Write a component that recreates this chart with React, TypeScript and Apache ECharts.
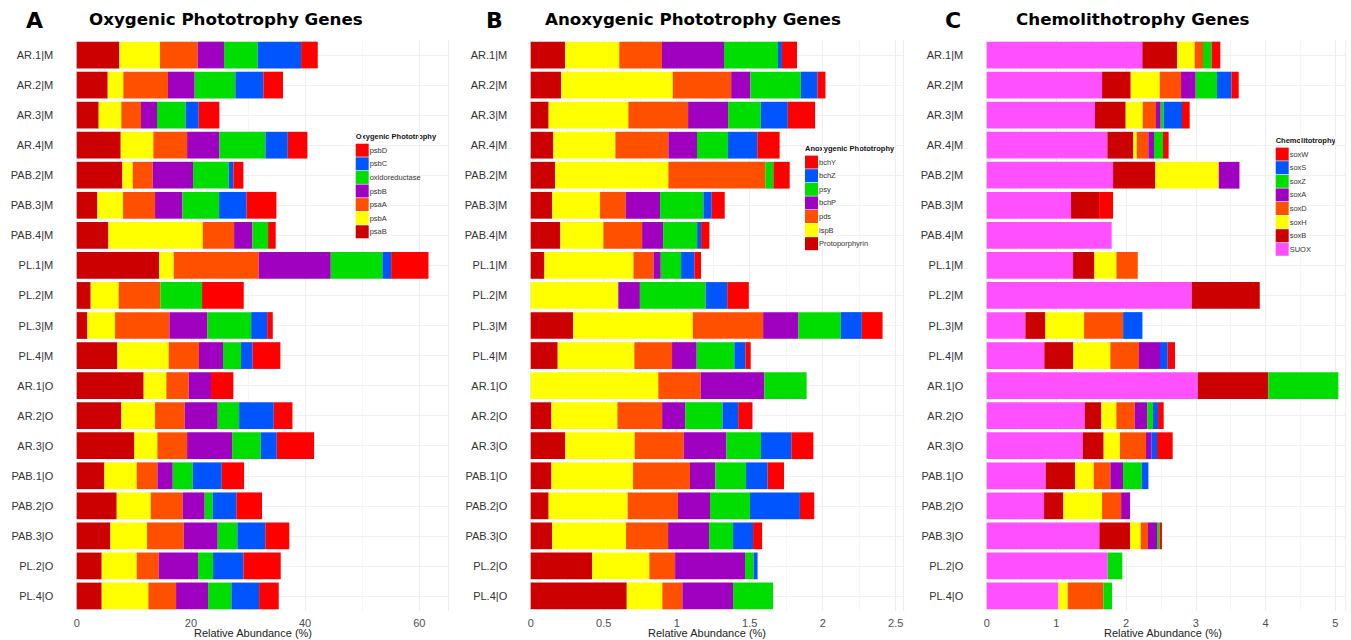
import React, { useEffect, useRef } from "react";
import * as echarts from "echarts";

const categories = [
  "AR.1|M", "AR.2|M", "AR.3|M", "AR.4|M", "PAB.2|M", "PAB.3|M", "PAB.4|M", "PL.1|M", "PL.2|M", "PL.3|M",
  "PL.4|M", "AR.1|O", "AR.2|O", "AR.3|O", "PAB.1|O", "PAB.2|O", "PAB.3|O", "PL.2|O", "PL.4|O",
];

// Panel A – Oxygenic phototrophy (stack order left -> right)
const psaB = [7.47, 5.43, 3.85, 7.71, 8.0, 3.62, 5.55, 14.42, 2.45, 1.87, 7.12, 11.73, 7.82, 10.1, 4.85, 7.01, 5.9, 4.38, 4.38];
const psbA = [7.12, 2.74, 3.97, 5.72, 1.81, 4.5, 16.52, 2.57, 4.9, 4.85, 8.99, 3.97, 5.9, 4.03, 5.66, 5.95, 6.42, 6.13, 8.17];
const psaA = [6.6, 7.82, 3.44, 5.9, 3.5, 5.6, 5.49, 14.89, 7.3, 9.52, 5.31, 3.91, 5.2, 5.2, 3.62, 5.6, 6.42, 3.85, 4.85];
const psbB = [4.61, 4.67, 2.8, 5.66, 7.06, 4.79, 3.21, 12.61, 0, 6.66, 4.2, 3.91, 5.78, 7.88, 2.69, 3.85, 5.95, 6.89, 5.6];
const oxidoreductase = [5.9, 7.12, 5.02, 8.06, 6.25, 6.42, 2.74, 9.05, 7.3, 7.65, 3.15, 0, 3.74, 5.02, 3.5, 1.4, 3.44, 2.63, 4.09];
const psbC = [7.59, 4.9, 2.28, 3.91, 0.82, 4.79, 0, 1.52, 0, 2.8, 2.04, 0, 6.07, 2.8, 5.08, 4.14, 4.9, 5.31, 4.85];
const psbD = [2.92, 3.44, 3.62, 3.44, 1.75, 5.25, 1.34, 6.54, 7.3, 0.99, 4.85, 3.91, 3.27, 6.54, 3.91, 4.5, 4.2, 6.54, 3.44];

// Panel B – Anoxygenic phototrophy
const protoporphyrin = [0.235, 0.208, 0.123, 0.155, 0.167, 0.146, 0.203, 0.094, 0, 0.29, 0.185, 0, 0.142, 0.237, 0.142, 0.123, 0.146, 0.42, 0.658];
const ispB = [0.372, 0.765, 0.546, 0.425, 0.776, 0.329, 0.295, 0.61, 0.6, 0.82, 0.525, 0.874, 0.452, 0.475, 0.559, 0.541, 0.507, 0.393, 0.244];
const pds = [0.292, 0.4, 0.409, 0.363, 0.664, 0.176, 0.265, 0.137, 0, 0.482, 0.258, 0.29, 0.306, 0.336, 0.39, 0.345, 0.288, 0.176, 0.137];
const bchP = [0.425, 0.132, 0.274, 0.196, 0, 0.235, 0.144, 0.05, 0.148, 0.242, 0.169, 0.436, 0.158, 0.292, 0.174, 0.219, 0.281, 0.479, 0.347];
const psy = [0.37, 0.345, 0.224, 0.212, 0.055, 0.297, 0.233, 0.139, 0.45, 0.29, 0.258, 0.29, 0.256, 0.237, 0.21, 0.274, 0.164, 0.059, 0.274];
const bchZ = [0.027, 0.114, 0.185, 0.201, 0, 0.057, 0.027, 0.091, 0.148, 0.144, 0.075, 0, 0.107, 0.208, 0.148, 0.342, 0.137, 0.027, 0];
const bchY = [0.103, 0.055, 0.187, 0.153, 0.112, 0.089, 0.057, 0.046, 0.148, 0.142, 0.037, 0, 0.098, 0.151, 0.112, 0.098, 0.062, 0, 0];

// Panel C – Chemolithotrophy
const SUOX = [2.233, 1.655, 1.554, 1.731, 1.813, 1.21, 1.793, 1.239, 2.941, 0.555, 0.827, 3.027, 1.406, 1.377, 0.846, 0.823, 1.616, 1.736, 1.028];
const soxB = [0.497, 0.411, 0.44, 0.373, 0.607, 0.402, 0, 0.306, 0.976, 0.287, 0.416, 1.014, 0.239, 0.301, 0.421, 0.277, 0.44, 0, 0];
const soxH = [0.253, 0.416, 0.244, 0.048, 0.909, 0, 0, 0.316, 0, 0.555, 0.531, 0, 0.215, 0.234, 0.268, 0.555, 0.153, 0, 0.134];
const soxD = [0.12, 0.306, 0.191, 0.167, 0, 0, 0, 0.306, 0, 0.56, 0.411, 0, 0.263, 0.373, 0.239, 0.273, 0.105, 0, 0.512];
const soxA = [0, 0.21, 0.067, 0.081, 0.297, 0, 0, 0, 0, 0, 0.301, 0, 0.182, 0.077, 0.182, 0.129, 0.129, 0, 0];
const soxZ = [0.124, 0.306, 0.043, 0.129, 0, 0, 0, 0, 0, 0, 0, 1.004, 0.081, 0, 0.268, 0, 0.038, 0.21, 0.124];
const soxS = [0, 0.206, 0.263, 0, 0, 0, 0, 0, 0, 0.277, 0.11, 0, 0.072, 0.081, 0.096, 0, 0, 0, 0];
const soxW = [0.124, 0.105, 0.11, 0.081, 0, 0.201, 0, 0, 0, 0, 0.105, 0, 0.081, 0.225, 0, 0, 0.033, 0, 0];

const xAxisTitle = "Relative Abundance (%)";

const C = {
  darkred: "#CC0000",
  yellow: "#FFFF00",
  orange: "#FF5000",
  purple: "#A000C0",
  green: "#00DD00",
  blue: "#0055FF",
  red: "#FF0000",
  magenta: "#FF50FF",
};

const panelA = [
  { name: "psaB", data: psaB, color: C.darkred },
  { name: "psbA", data: psbA, color: C.yellow },
  { name: "psaA", data: psaA, color: C.orange },
  { name: "psbB", data: psbB, color: C.purple },
  { name: "oxidoreductase", data: oxidoreductase, color: C.green },
  { name: "psbC", data: psbC, color: C.blue },
  { name: "psbD", data: psbD, color: C.red },
];
const panelB = [
  { name: "Protoporphyrin", data: protoporphyrin, color: C.darkred },
  { name: "ispB", data: ispB, color: C.yellow },
  { name: "pds", data: pds, color: C.orange },
  { name: "bchP", data: bchP, color: C.purple },
  { name: "psy", data: psy, color: C.green },
  { name: "bchZ", data: bchZ, color: C.blue },
  { name: "bchY", data: bchY, color: C.red },
];
const panelC = [
  { name: "SUOX", data: SUOX, color: C.magenta },
  { name: "soxB", data: soxB, color: C.darkred },
  { name: "soxH", data: soxH, color: C.yellow },
  { name: "soxD", data: soxD, color: C.orange },
  { name: "soxA", data: soxA, color: C.purple },
  { name: "soxZ", data: soxZ, color: C.green },
  { name: "soxS", data: soxS, color: C.blue },
  { name: "soxW", data: soxW, color: C.red },
];

const panels = [
  { genes: panelA, left: 76.7, width: 371.2, max: 65, interval: 20, nameX: 253, legendLeft: 355.7, legendTop: 143.7, legendTitle: "Oxygenic Phototrophy", letter: "A", letterX: 26, title: "Oxygenic Phototrophy Genes", titleX: 89 },
  { genes: panelB, left: 530.7, width: 372.3, max: 2.55, interval: 0.5, nameX: 707, legendLeft: 805, legendTop: 155.6, legendTitle: "Anoxygenic Phototrophy", letter: "B", letterX: 486, title: "Anoxygenic Phototrophy Genes", titleX: 545 },
  { genes: panelC, left: 986.7, width: 359, max: 5.15, interval: 1, nameX: 1163, legendLeft: 1275.7, legendTop: 147.6, legendTitle: "Chemolitotrophy", letter: "C", letterX: 945, title: "Chemolithotrophy Genes", titleX: 1016 },
];

const SANS = "'Liberation Sans', Arial, sans-serif";
const BOLD = "'DejaVu Sans', sans-serif";

export default function App() {
  const ref = useRef<HTMLDivElement>(null);
  useEffect(() => {
    if (!ref.current) return;
    const chart = echarts.init(ref.current, null, { renderer: "svg" });
    const grid: any[] = [];
    const xAxis: any[] = [];
    const yAxis: any[] = [];
    const series: any[] = [];
    const legend: any[] = [];
    const graphic: any[] = [];
    panels.forEach((p, i) => {
      grid.push({ left: p.left, top: 40, width: p.width, height: 571, containLabel: false, outerBoundsMode: "none" });
      xAxis.push({
        type: "value",
        gridIndex: i,
        min: 0,
        max: p.max,
        interval: p.interval,
        axisLine: { show: false },
        axisTick: { show: false },
        axisLabel: { showMaxLabel: false, margin: 6, fontFamily: SANS, fontSize: 11, color: "#4D4D4D" },
        splitLine: { show: true, lineStyle: { color: "#EEEEEE", width: 1 } },
        minorTick: { show: false, splitNumber: 2 },
        minorSplitLine: { show: true, lineStyle: { color: "#F6F6F6", width: 1 } },
      });
      yAxis.push({
        type: "category",
        gridIndex: i,
        data: categories,
        inverse: true,
        axisLine: { show: false },
        axisTick: { show: false },
        axisLabel: { margin: 23.5, fontFamily: SANS, fontSize: 11, color: "#333" },
        splitLine: { show: true, alignWithLabel: true, lineStyle: { color: "#F0F0F0", width: 1 } },
      });
      p.genes.forEach((g) => {
        series.push({
          type: "bar",
          name: g.name,
          xAxisIndex: i,
          yAxisIndex: i,
          stack: "panel" + i,
          data: g.data,
          barCategoryGap: "11%",
          itemStyle: { color: g.color },
          emphasis: { disabled: true },
        });
      });
      legend.push({
        orient: "vertical",
        left: p.legendLeft,
        top: p.legendTop,
        itemWidth: 13,
        itemHeight: 13,
        itemGap: 0.6,
        icon: "rect",
        selectedMode: false,
        data: p.genes.map((g) => g.name).reverse(),
        textStyle: { fontFamily: SANS, fontSize: 7.5, color: "#333", padding: [0, 0, 0, -4] },
        padding: 0,
      });
      graphic.push({
        type: "text",
        left: p.legendLeft,
        top: p.legendTop - 11,
        style: { text: p.legendTitle, font: `bold 7.5px ${SANS}`, fill: "#111" },
      });
      graphic.push({
        type: "text",
        left: p.letterX,
        top: 9,
        style: { text: p.letter, font: `bold 22px ${BOLD}`, fill: "#000" },
      });
      graphic.push({
        type: "text",
        left: p.titleX,
        top: 10.5,
        style: { text: p.title, font: `bold 16.7px ${BOLD}`, fill: "#000" },
      });
      graphic.push({
        type: "text",
        x: p.nameX,
        y: 627,
        style: { text: xAxisTitle, font: `11px ${SANS}`, fill: "#222", align: "center", verticalAlign: "top" },
      });
    });
    chart.setOption({
      animation: false,
      backgroundColor: "#FFFFFF",
      grid,
      xAxis,
      yAxis,
      series,
      legend,
      graphic,
    });
    return () => chart.dispose();
  }, []);
  return <div ref={ref} style={{ position: "fixed", left: 0, top: 0, width: 1351, height: 640 }} />;
}
